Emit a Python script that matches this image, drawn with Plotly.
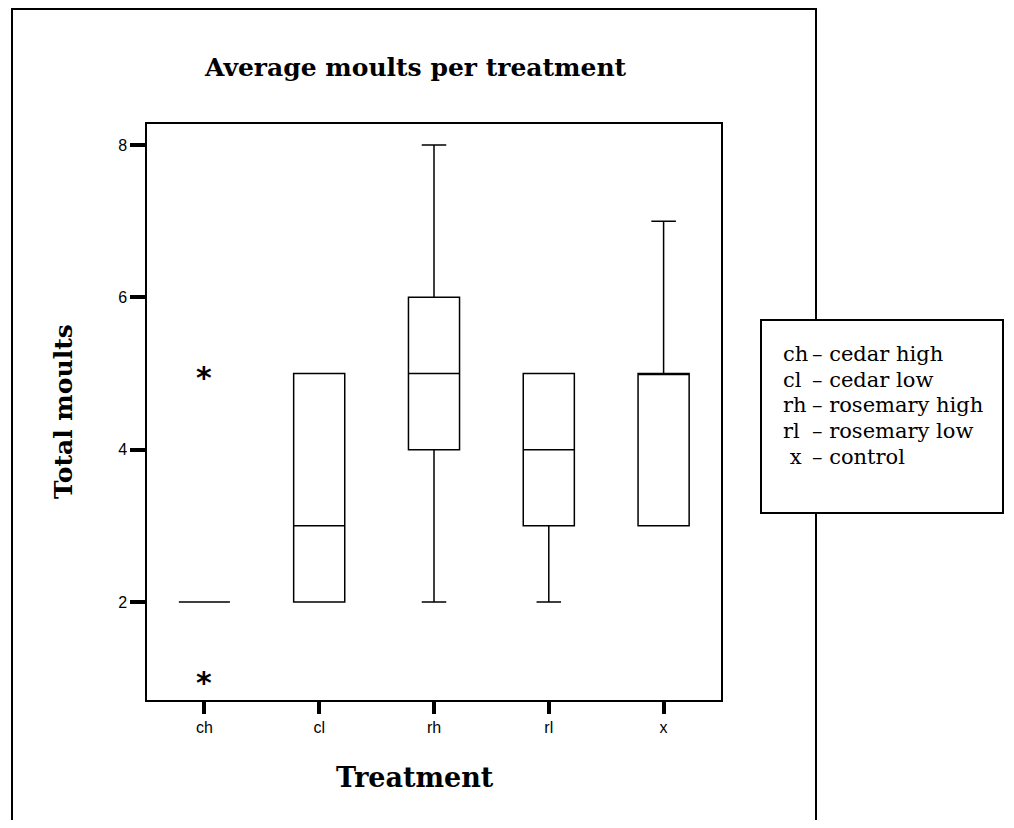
import plotly.graph_objects as go

# ---- data ----
categories = ["ch", "cl", "rh", "rl", "x"]
q1_vals = [2, 2, 4, 3, 3]
median_vals = [2, 3, 5, 4, 5]
q3_vals = [2, 5, 6, 5, 5]
lower_whisker = [2, 2, 2, 2, 3]
upper_whisker = [2, 5, 8, 5, 7]
outlier_cats = ["ch", "ch"]
outlier_vals = [5, 1]
y_ticks = [2, 4, 6, 8]
legend_codes = ["ch", "cl", "rh", "rl", "\u00a0x"]
legend_names = ["cedar high", "cedar low", "rosemary high", "rosemary low", "control"]

# page offset of the figure inside the browser (default body margin)
OFF = 8
W, H = 998, 812
# plot-area edges in screen (reference) pixels
L, R, T, B = 147, 721, 124, 700


def px(xp):
    return (xp - L) / (R - L)


def py(yp):
    return (B - yp) / (B - T)


SERIF = "DejaVu Serif"
SANS = "Liberation Sans"

fig = go.Figure()
fig.add_trace(go.Box(
    x=categories, q1=q1_vals, median=median_vals, q3=q3_vals,
    lowerfence=lower_whisker, upperfence=upper_whisker,
    boxpoints=False, width=0.445, whiskerwidth=0.48,
    fillcolor="rgba(255,255,255,0)", line=dict(color="black", width=1.5),
    showlegend=False, hoverinfo="skip",
))

annotations = [
    dict(text="<b>Average moults per treatment</b>", x=px(415), y=py(67), xref="paper", yref="paper",
         xanchor="center", yanchor="middle", showarrow=False, font=dict(family=SERIF, size=25, color="black")),
    dict(text="<b>Total moults</b>", x=px(63), y=py(412), xref="paper", yref="paper", textangle=-90,
         xanchor="center", yanchor="middle", showarrow=False, font=dict(family=SERIF, size=25, color="black")),
    dict(text="<b>Treatment</b>", x=px(415), y=py(777), xref="paper", yref="paper",
         xanchor="center", yanchor="middle", showarrow=False, font=dict(family=SERIF, size=27, color="black")),
]
# outlier asterisks placed through the data axes
for c, v in zip(outlier_cats, outlier_vals):
    annotations.append(dict(text="<b>*</b>", x=c, y=v, xref="x", yref="y", xanchor="center",
                            yanchor="middle", yshift=-4, showarrow=False,
                            font=dict(family="DejaVu Sans", size=30, color="black")))
for i, (code, name) in enumerate(zip(legend_codes, legend_names)):
    yy = py(354 + 25.7 * i)
    annotations.append(dict(text=code, x=px(781), y=yy, xref="paper", yref="paper", xanchor="left",
                            yanchor="middle", showarrow=False, font=dict(family=SERIF, size=21, color="black")))
    annotations.append(dict(text="\u2013 " + name, x=px(810), y=yy, xref="paper", yref="paper", xanchor="left",
                            yanchor="middle", showarrow=False, font=dict(family=SERIF, size=21, color="black")))

shapes = [
    dict(type="rect", xref="paper", yref="paper", x0=px(12), x1=px(816), y0=py(900), y1=py(9),
         line=dict(color="black", width=2), fillcolor="rgba(0,0,0,0)", layer="above"),
    dict(type="rect", xref="paper", yref="paper", x0=px(761), x1=px(1003), y0=py(513), y1=py(320),
         line=dict(color="black", width=2), fillcolor="white", layer="above"),
]

fig.update_layout(
    width=W, height=H,
    margin=dict(l=L - OFF, r=W - (R - OFF), t=T - OFF, b=H - (B - OFF), pad=0),
    paper_bgcolor="white", plot_bgcolor="white",
    annotations=annotations, shapes=shapes,
    showlegend=False,
)
fig.update_xaxes(
    type="category", categoryorder="array", categoryarray=categories,
    range=[-0.5, 4.5], showgrid=False, zeroline=False,
    showline=True, linecolor="black", linewidth=1.5, mirror=True,
    ticks="outside", ticklen=12, tickwidth=4, tickcolor="black",
    tickfont=dict(family=SANS, size=16, color="black"),
)
fig.update_yaxes(
    range=[0.714, 8.276], tickvals=y_ticks, showgrid=False, zeroline=False,
    showline=True, linecolor="black", linewidth=1.5, mirror=True,
    ticks="outside", ticklen=15, tickwidth=4, tickcolor="black",
    tickfont=dict(family=SANS, size=16, color="black"),
)

fig.write_html("out.html")
